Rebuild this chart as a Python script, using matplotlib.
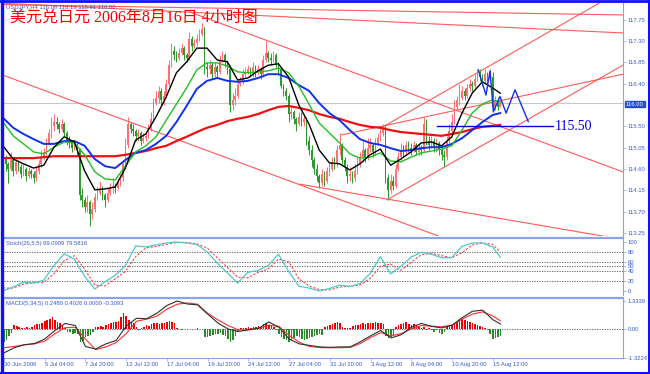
import matplotlib
matplotlib.use('Agg')
import matplotlib.pyplot as plt
from matplotlib.lines import Line2D

plt.rcParams['font.family'] = ['Liberation Sans', 'DejaVu Sans']

# --- USDJPY H4 candles, 30 Jun - 16 Aug 2006 ---
first_open = 114.95
closes = [
    114.85, 114.70, 114.60, 114.80, 114.55, 114.75, 114.65, 114.50, 114.60, 114.45, 114.55, 114.50, 114.40, 114.55, 114.70, 114.85,
    114.95, 115.15, 115.35, 115.50, 115.60, 115.55, 115.45, 115.55, 115.35, 115.20, 115.15, 115.05, 115.10, 115.00, 114.05, 113.95,
    113.80, 113.90, 113.65, 113.75, 114.00, 114.10, 114.20, 114.05, 113.95, 114.10, 114.20, 114.25, 114.20, 114.30, 114.40, 114.70,
    115.10, 115.55, 115.45, 115.40, 115.30, 115.35, 115.20, 115.25, 115.30, 115.45, 115.65, 116.00, 116.10, 116.25, 116.05, 116.15,
    116.40, 116.80, 117.10, 117.00, 116.95, 117.05, 117.15, 117.00, 116.95, 117.35, 117.20, 117.25, 117.35, 117.45, 117.55, 116.75,
    116.70, 116.80, 116.60, 116.75, 116.65, 116.90, 117.00, 116.85, 116.70, 115.95, 116.05, 116.15, 116.40, 116.45, 116.60, 116.65,
    116.70, 116.60, 116.75, 116.65, 116.70, 116.60, 116.90, 117.05, 116.95, 116.90, 117.00, 116.80, 116.70, 116.35, 116.25, 116.15,
    115.75, 115.80, 115.65, 115.55, 115.70, 115.60, 115.65, 115.20, 115.00, 114.80, 114.60, 114.45, 114.30, 114.50, 114.35, 114.55,
    114.60, 114.75, 114.70, 115.00, 115.10, 114.80, 114.65, 114.45, 114.50, 114.40, 114.55, 114.70, 114.85, 115.00, 114.85, 115.05,
    115.10, 114.95, 115.15, 115.25, 115.35, 115.45, 114.40, 114.15, 114.35, 114.25, 114.60, 114.85, 115.00, 114.95, 115.10, 115.05,
    115.00, 115.10, 114.95, 115.05, 115.00, 115.55, 115.20, 115.10, 115.20, 115.05, 115.15, 115.00, 114.90, 114.85, 115.20, 115.40,
    115.60, 115.90, 116.05, 116.10, 116.25, 116.15, 116.30, 116.40, 116.35, 116.50, 116.60, 116.55, 116.45, 116.60, 116.50, 116.55,
    115.90, 116.05, 115.90, 116.00,
]
highs = [
    115.00, 114.90, 114.75, 114.95, 114.85, 114.85, 114.80, 114.70, 114.70, 114.65, 114.65, 114.60, 114.55, 114.65, 114.80, 115.00,
    115.05, 115.25, 115.45, 115.70, 115.75, 115.70, 115.60, 115.65, 115.60, 115.40, 115.30, 115.20, 115.20, 115.15, 115.05, 114.20,
    114.00, 114.05, 113.95, 113.90, 114.10, 114.25, 114.35, 114.25, 114.10, 114.20, 114.30, 114.40, 114.30, 114.40, 114.50, 114.80,
    115.25, 115.70, 115.60, 115.55, 115.45, 115.45, 115.40, 115.35, 115.40, 115.55, 115.80, 116.10, 116.25, 116.35, 116.30, 116.25,
    116.50, 116.90, 117.25, 117.20, 117.10, 117.15, 117.25, 117.20, 117.05, 117.50, 117.40, 117.35, 117.45, 117.55, 117.68, 117.60,
    116.85, 116.90, 116.85, 116.85, 116.80, 117.00, 117.10, 117.05, 116.90, 116.80, 116.20, 116.30, 116.50, 116.55, 116.70, 116.75,
    116.80, 116.75, 116.85, 116.80, 116.80, 116.75, 117.00, 117.30, 117.10, 117.05, 117.10, 117.05, 116.85, 116.75, 116.40, 116.30,
    116.20, 115.95, 115.85, 115.70, 115.80, 115.80, 115.75, 115.70, 115.30, 115.10, 114.85, 114.70, 114.50, 114.60, 114.55, 114.65,
    114.75, 114.85, 114.85, 115.10, 115.35, 115.15, 114.85, 114.70, 114.65, 114.55, 114.70, 114.85, 114.95, 115.20, 115.05, 115.25,
    115.25, 115.15, 115.25, 115.35, 115.45, 115.55, 115.50, 114.50, 114.50, 114.45, 114.70, 114.95, 115.15, 115.10, 115.20, 115.20,
    115.15, 115.20, 115.15, 115.15, 115.10, 115.70, 115.65, 115.30, 115.30, 115.25, 115.25, 115.20, 115.10, 115.00, 115.30, 115.55,
    115.75, 116.05, 116.15, 116.40, 116.35, 116.30, 116.40, 116.50, 116.45, 116.60, 116.70, 116.70, 116.60, 116.70, 116.65, 116.70,
    116.65, 116.15, 116.10, 116.05,
]
lows = [
    114.70, 114.55, 114.30, 114.55, 114.45, 114.50, 114.55, 114.40, 114.45, 114.35, 114.40, 114.40, 114.30, 114.35, 114.50, 114.65,
    114.80, 114.90, 115.10, 115.25, 115.40, 115.45, 115.35, 115.40, 115.30, 115.10, 115.05, 114.95, 115.00, 114.90, 113.95, 113.80,
    113.70, 113.70, 113.40, 113.55, 113.70, 113.95, 114.05, 113.95, 113.80, 113.90, 114.05, 114.10, 114.10, 114.15, 114.25, 114.35,
    114.65, 115.05, 115.35, 115.30, 115.20, 115.20, 115.10, 115.15, 115.20, 115.25, 115.40, 115.60, 115.95, 116.00, 115.95, 115.95,
    116.10, 116.35, 116.75, 116.90, 116.85, 116.90, 117.00, 116.90, 116.85, 116.90, 117.10, 117.15, 117.20, 117.30, 117.40, 116.60,
    116.55, 116.60, 116.50, 116.55, 116.55, 116.60, 116.85, 116.75, 116.60, 115.80, 115.85, 115.95, 116.10, 116.35, 116.40, 116.55,
    116.60, 116.55, 116.55, 116.55, 116.60, 116.50, 116.55, 116.85, 116.85, 116.80, 116.85, 116.75, 116.60, 116.30, 116.15, 116.05,
    115.60, 115.65, 115.55, 115.40, 115.50, 115.50, 115.50, 115.10, 114.90, 114.65, 114.50, 114.35, 114.20, 114.25, 114.25, 114.30,
    114.45, 114.55, 114.60, 114.65, 114.90, 114.70, 114.55, 114.30, 114.35, 114.30, 114.35, 114.50, 114.65, 114.75, 114.75, 114.80,
    114.95, 114.85, 114.90, 115.10, 115.20, 115.30, 114.30, 113.95, 114.10, 114.15, 114.20, 114.55, 114.80, 114.85, 114.90, 114.95,
    114.90, 114.95, 114.90, 114.90, 114.90, 114.95, 115.10, 115.00, 115.05, 114.95, 114.95, 114.90, 114.80, 114.65, 114.80, 115.15,
    115.35, 115.55, 115.85, 115.95, 116.05, 116.05, 116.10, 116.25, 116.25, 116.30, 116.45, 116.45, 116.35, 116.40, 116.40, 116.45,
    115.80, 115.85, 115.85, 115.90,
]

# moving averages read every 4 bars (last point = last bar)
ma_black = [
    115.09, 114.81, 114.71, 114.62, 114.68, 115.06, 115.28, 115.17, 114.56, 114.16,
    114.18, 114.22, 114.62, 115.21, 115.34, 115.70, 116.12, 116.63, 116.86, 117.15,
    117.15, 116.90, 116.86, 116.48, 116.52, 116.67, 116.79, 116.82, 116.54, 115.95,
    115.55, 115.00, 114.73, 114.71, 114.58, 114.71, 114.90, 115.02, 114.68, 114.81,
    114.96, 115.15, 115.17, 115.09, 115.28, 115.78, 116.20, 116.44, 116.31, 116.20,
]
ma_green = [
    115.59, 115.30, 115.13, 114.96, 114.92, 115.06, 115.17, 115.15, 114.90, 114.54,
    114.39, 114.37, 114.66, 114.96, 115.09, 115.28, 115.63, 115.97, 116.31, 116.69,
    116.84, 116.84, 116.77, 116.65, 116.63, 116.65, 116.67, 116.73, 116.63, 116.35,
    115.97, 115.57, 115.36, 115.15, 114.92, 114.83, 114.85, 114.94, 114.77, 114.75,
    114.85, 114.94, 114.98, 115.02, 115.09, 115.42, 115.78, 115.97, 116.06, 116.01,
]
ma_blue = [
    115.68, 115.47, 115.34, 115.23, 115.13, 115.13, 115.19, 115.19, 115.09, 114.81,
    114.66, 114.62, 114.79, 114.94, 115.00, 115.13, 115.30, 115.59, 115.93, 116.29,
    116.46, 116.52, 116.46, 116.44, 116.46, 116.52, 116.60, 116.60, 116.52, 116.37,
    116.25, 115.99, 115.78, 115.63, 115.42, 115.23, 115.15, 115.11, 115.04, 114.98,
    115.00, 115.04, 115.06, 115.06, 115.13, 115.25, 115.42, 115.59, 115.74, 115.78,
]
ma_red = [
    114.83, 114.83, 114.83, 114.83, 114.85, 114.87, 114.87, 114.87, 114.87, 114.87,
    114.87, 114.87, 114.90, 114.94, 114.98, 115.04, 115.09, 115.19, 115.28, 115.38,
    115.47, 115.53, 115.61, 115.66, 115.70, 115.76, 115.84, 115.91, 115.93, 115.89,
    115.84, 115.76, 115.70, 115.66, 115.59, 115.53, 115.49, 115.47, 115.42, 115.38,
    115.36, 115.34, 115.32, 115.30, 115.34, 115.38, 115.44, 115.49, 115.51, 115.53,
]

# Stochastic (26,5,5)
stoch_main = [
    0, 8, 18, 16, 22, 52, 76, 65, 30, 4,
    19, 32, 52, 92, 90, 94, 98, 100, 98, 95,
    80, 57, 37, 16, 38, 42, 52, 75, 40, 10,
    6, 0, 5, 12, 9, 15, 36, 70, 35, 50,
    69, 79, 75, 68, 68, 91, 98, 98, 90, 69,
]
stoch_signal = [
    6, 6, 14, 17, 17, 35, 62, 72, 45, 12,
    10, 25, 40, 70, 88, 91, 95, 99, 99, 96,
    88, 68, 48, 28, 27, 38, 45, 65, 60, 25,
    10, 3, 2, 8, 10, 12, 26, 50, 55, 42,
    58, 74, 77, 72, 68, 78, 94, 98, 95, 80,
]
stoch_levels = [80, 60, 50, 40, 20]

# MACD (5,34,5)
macd_main = [
    -1.10, -0.86, -0.72, -0.66, -0.45, -0.05, 0.28, 0.18, -0.80, -0.92,
    -0.68, -0.52, 0.15, 0.52, 0.50, 0.75, 1.12, 1.33, 1.19, 1.15,
    0.72, 0.30, 0.02, -0.10, -0.02, 0.05, 0.35, 0.10, -0.45, -0.68,
    -0.75, -0.82, -0.84, -0.82, -0.82, -0.58, -0.30, -0.05, -0.40, -0.25,
    0.10, 0.28, 0.14, 0.07, 0.20, 0.55, 0.85, 0.90, 0.46, 0.25,
]
macd_signal = [
    -0.86, -0.80, -0.72, -0.68, -0.55, -0.20, 0.08, 0.10, -0.45, -0.95,
    -0.82, -0.62, -0.20, 0.38, 0.48, 0.62, 0.95, 1.18, 1.24, 1.18,
    0.75, 0.45, 0.18, -0.02, -0.02, 0.05, 0.20, 0.14, -0.28, -0.60,
    -0.80, -0.85, -0.86, -0.86, -0.84, -0.66, -0.38, -0.15, -0.30, -0.20,
    0.02, 0.18, 0.15, 0.12, 0.20, 0.48, 0.72, 0.82, 0.63, 0.40,
]
macd_hist = [
    -0.6, -0.5, -0.3, -0.15, 0.2, 0.15, 0.1, 0.08, 0.08, 0.1, 0.05, 0.1, 0.2, 0.25, 0.25, 0.3,
    0.4, 0.45, 0.5, 0.58, 0.45, 0.35, 0.3, 0.2, 0.05, -0.1, -0.12, -0.2, -0.15, -0.2, -0.6, -0.55,
    -0.35, -0.3, -0.25, -0.1, 0.1, 0.1, 0.15, 0.1, 0.2, 0.25, 0.3, 0.35, 0.35, 0.4, 0.6, 0.77,
    0.65, 0.45, 0.35, 0.3, 0.1, -0.05, 0.05, 0.1, 0.2, 0.15, 0.25, 0.3, 0.28, 0.25, 0.3, 0.3,
    0.35, 0.4, 0.35, 0.3, 0.05, 0.02, -0.05, 0.03, -0.03, 0.02, 0.04, 0.02, 0.05, 0.03, -0.05, -0.35,
    -0.35, -0.3, -0.25, -0.2, -0.2, -0.15, -0.25, -0.3, -0.45, -0.6, -0.5, -0.3, -0.1, 0.05, 0.08, 0.05,
    0.1, 0.05, 0.12, 0.1, 0.15, 0.12, 0.25, 0.3, 0.2, 0.15, 0.1, -0.05, -0.2, -0.35, -0.45, -0.5,
    -0.6, -0.5, -0.4, -0.3, -0.35, -0.45, -0.5, -0.45, -0.4, -0.35, -0.3, -0.25, -0.2, -0.25, 0.1, 0.15,
    0.2, 0.25, 0.3, 0.35, 0.3, 0.1, 0.05, 0.05, 0.05, 0.15, 0.2, 0.2, 0.25, 0.3, 0.25, 0.3,
    0.3, 0.3, 0.35, 0.3, 0.3, 0.25, -0.3, -0.4, -0.35, -0.3, 0.1, 0.2, 0.25, 0.3, 0.35, 0.25,
    0.2, 0.25, 0.2, 0.1, 0.05, 0.1, -0.05, 0.05, -0.05, -0.1, -0.05, -0.15, -0.2, -0.1, 0.1, 0.15,
    0.2, 0.3, 0.35, 0.45, 0.5, 0.45, 0.4, 0.35, 0.3, 0.25, 0.2, 0.15, 0.1, 0.05, -0.05, -0.2,
    -0.45, -0.4, -0.35, -0.31,
]

price_ticks = [117.75, 117.30, 116.85, 116.40, 115.50, 115.05, 114.60, 114.15, 113.70, 113.25]
last_price = 116.00
target_price = 115.50
time_labels = ['30 Jun 2006', '5 Jul 04:00', '7 Jul 20:00', '12 Jul 12:00', '17 Jul 04:00',
               '19 Jul 20:00', '24 Jul 12:00', '27 Jul 04:00', '31 Jul 20:00', '3 Aug 12:00',
               '8 Aug 04:00', '10 Aug 20:00', '15 Aug 12:00']

# hand drawn trend lines (bar, price) -> (bar, price)
trend_lines = [
    ((-1.2, 118.07), (243.1, 117.85)),
    ((-1.2, 118.10), (243.1, 117.47)),
    ((73.3, 117.91), (243.1, 114.54)),
    ((0.0, 116.58), (170.6, 113.19)),
    ((116.5, 114.28), (236.9, 113.17)),
    ((150.6, 113.95), (243.1, 116.79)),
    ((149.0, 115.49), (236.1, 118.17)),
    ((132.9, 115.32), (243.1, 116.60)),
]
# forecast zigzag
zig_bar = [186.4, 189.4, 191.0, 192.3, 194.9, 197.3, 200.8, 206.0]
zig_price = [116.69, 116.16, 116.67, 115.81, 116.13, 115.78, 116.27, 115.60]

W, H = 650, 374
AXC = '#8ca4e6'
TXC = '#3a5ad0'
UP = '#ff6f6f'
DOWN = '#2a9a2a'

fig = plt.figure(figsize=(W / 100, H / 100), dpi=100)
fig.patch.set_facecolor('white')


def px_axes(x0, y0, x1, y1):
    return fig.add_axes([x0 / W, 1 - y1 / H, (x1 - x0) / W, (y1 - y0) / H])


def fig_line(x0, y0, x1, y1, **kw):
    fig.add_artist(Line2D([x0 / W, x1 / W], [1 - y0 / H, 1 - y1 / H], transform=fig.transFigure, **kw))


n = len(closes)
bars = list(range(n))
opens = [first_open] + closes[:-1]
ma_idx = list(range(0, n - 3, 4)) + [n - 1]
XL = (0.39, 243.14)

ax = px_axes(4, 3, 623, 236)
ax_st = px_axes(4, 239, 623, 295)
ax_md = px_axes(4, 299, 623, 358)

for a in (ax, ax_st, ax_md):
    a.set_xlim(*XL)
    a.set_facecolor('white')
    for s in ('top', 'left', 'bottom'):
        a.spines[s].set_visible(False)
    a.spines['right'].set_color(AXC)
    a.spines['right'].set_linewidth(0.8)
    a.yaxis.tick_right()
    a.tick_params(axis='y', length=2, width=0.5, color=AXC, labelsize=4.2, labelcolor=TXC, pad=1.5)
    a.tick_params(axis='x', bottom=False, labelbottom=False)

# ---- main price chart ----
ax.set_ylim(113.187, 118.102)
ax.set_yticks(price_ticks)
ax.set_yticklabels(['%.2f' % p for p in price_ticks])
ax.axhline(last_price, color='#c8c8c8', lw=0.8, zorder=1)

up = [c >= o for o, c in zip(opens, closes)]
cols = [UP if u else DOWN for u in up]
ax.vlines(bars, lows, highs, colors=cols, lw=0.7, zorder=2)
body_lo = [min(o, c) for o, c in zip(opens, closes)]
body_h = [max(abs(c - o), 0.012) for o, c in zip(opens, closes)]
ax.bar(bars, body_h, bottom=body_lo, width=0.62, color=cols, lw=0, zorder=3)

for (b0, p0), (b1, p1) in trend_lines:
    ax.plot([b0, b1], [p0, p1], color='#ff5a5a', lw=0.8, zorder=2)

ax.plot(ma_idx, ma_red, color='#ee1010', lw=1.6, zorder=4)
ax.plot(ma_idx, ma_blue, color='#1030ee', lw=1.4, zorder=5)
ax.plot(ma_idx, ma_green, color='#20c020', lw=1.0, zorder=5)
ax.plot(ma_idx, ma_black, color='#000000', lw=1.0, zorder=6)

ax.plot(zig_bar, zig_price, color='#1030ee', lw=1.0, zorder=7)
ax.plot([170.2, 215.7], [target_price, target_price], color='#0000dd', lw=1.0, zorder=7)
ax.text(216.3, target_price, '%.2f' % target_price, fontsize=10, color='#0000dd',
        family='Liberation Serif', va='center', ha='left', zorder=8)

fig.text(626 / W, 1 - 104 / H, '%.2f' % last_price, fontsize=4.2, color='white', va='center', ha='left',
         bbox=dict(boxstyle='square,pad=0.15', fc='#2050d0', ec='#2050d0'))

ax.text(0.004, 0.995, 'USDJPY,H4 116.08 116.13 115.91 116.00', transform=ax.transAxes,
        fontsize=4.2, color=TXC, va='top', ha='left')
fig.text(10 / W, 1 - 18 / H, '美元兑日元 2006年8月16日 4小时图', fontsize=11.5, color='#ff0000',
         family=['Liberation Serif', 'Noto Sans CJK SC'], va='center', ha='left')

# ---- stochastic ----
ax_st.set_ylim(-8.2, 106.1)
ax_st.set_yticks([100, 80, 60, 50, 40, 20, 0])
ax_st.set_yticklabels(['100', '80', '60', '50', '40', '20', '0'])
for lv in stoch_levels:
    ax_st.axhline(lv, color='#505050', lw=0.6, ls=(0, (1.5, 1.5)), zorder=1)
ax_st.plot(ma_idx, stoch_signal, color='#ff4040', lw=0.8, ls=(0, (2, 1.5)), zorder=3)
ax_st.plot(ma_idx, stoch_main, color='#50c8c8', lw=0.9, zorder=4)
ax_st.text(0.004, 0.97, 'Stoch(26,5,5) 69.0909 79.5816', transform=ax_st.transAxes,
           fontsize=4.2, color=TXC, va='top', ha='left')

# ---- MACD ----
ax_md.set_ylim(-1.34, 1.424)
ax_md.set_yticks([1.3339, 0.0, -1.3224])
ax_md.set_yticklabels(['1.3339', '0.00', '-1.3224'])
ax_md.axhline(0, color='#505050', lw=0.6, ls=(0, (1.5, 1.5)), zorder=1)
hcols = ['#ee0000' if v >= 0 else '#2a8a2a' for v in macd_hist]
ax_md.bar(bars, macd_hist, width=0.62, color=hcols, lw=0, zorder=2)
ax_md.plot(ma_idx, macd_signal, color='#ff3030', lw=0.8, zorder=3)
ax_md.plot(ma_idx, macd_main, color='#303030', lw=0.8, zorder=4)
ax_md.text(0.004, 0.97, 'MACD(5,34,5) 0.2480 0.4026 0.0000 -0.3093', transform=ax_md.transAxes,
           fontsize=4.2, color=TXC, va='top', ha='left')
ax_md.spines['bottom'].set_visible(True)
ax_md.spines['bottom'].set_color(AXC)
ax_md.spines['bottom'].set_linewidth(0.8)
ax_md.set_xticks([16 * k for k in range(len(time_labels))])
ax_md.set_xticklabels(time_labels, ha='left')
ax_md.tick_params(axis='x', bottom=True, labelbottom=True, length=2, width=0.5, color=AXC,
                  labelsize=4.2, labelcolor=TXC, pad=1)

# panel separators and window frame
fig_line(3, 237.5, 623, 237.5, color=AXC, lw=1.6)
fig_line(3, 297.5, 623, 297.5, color=AXC, lw=1.6)
fig_line(1.5, 0, 1.5, H, color='#1010ff', lw=2.4)
fig_line(0, 1, W, 1, color='#1010ff', lw=2.0)
fig_line(W - 1.5, 0, W - 1.5, H, color='#1010ff', lw=2.2)
fig_line(0, H - 1.5, W, H - 1.5, color='#1010ff', lw=2.2)

fig.savefig('out.png', dpi=100)
